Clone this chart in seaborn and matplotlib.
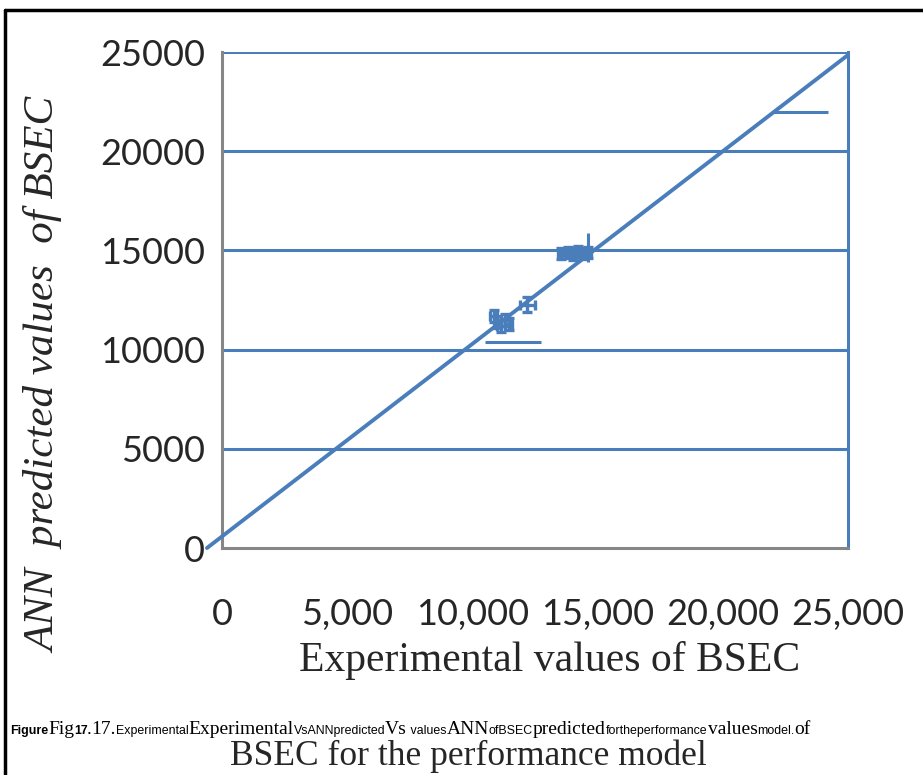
import matplotlib
matplotlib.use("Agg")
import matplotlib.pyplot as plt
import seaborn as sns
import pandas as pd
from matplotlib.lines import Line2D
from matplotlib.offsetbox import TextArea, HPacker, AnchoredOffsetbox

# ---- data ----
fit_x = [-600, 25000]
fit_y = [0, 24850]

exp_vals = [10850, 11000, 11150, 11300, 11450, 12200, 13550, 13800, 14000, 14200, 14400, 14600]
ann_vals = [11700, 11400, 11200, 11500, 11300, 12250, 14850, 14900, 14800, 14950, 14850, 14900]
small_xerr = [150, 150, 150, 150, 150, 300, 150, 150, 150, 150, 150, 150]
small_yerr = [300, 300, 300, 300, 300, 380, 280, 280, 280, 280, 280, 280]

long_x = [11620, 14600, 23100]
long_y = [10400, 15150, 22000]
long_xerr = [1120, 0, 1100]
long_yerr = [0, 750, 0]

x_ticks = [0, 5000, 10000, 15000, 20000, 25000]
x_ticklabels = ["0", "5,000", "10,000", "15,000", "20,000", "25,000"]
y_ticks = [0, 5000, 10000, 15000, 20000, 25000]
y_ticklabels = ["0", "5000", "10000", "15000", "20000", "25000"]

BLUE = "#4A7EBB"
GRAY = "#868686"

sns.set_style("white")
plt.rcParams["font.family"] = ["Lato", "DejaVu Sans"]

fig = plt.figure(figsize=(9.23, 7.75), dpi=100)
ax = fig.add_axes([222/923, 1-548/775, (848-222)/923, (548-52)/775])

df = pd.DataFrame({"x": fit_x, "y": fit_y})
sns.lineplot(data=df, x="x", y="y", ax=ax, color=BLUE, lw=2.8, clip_on=False, zorder=4)

ax.errorbar(exp_vals, ann_vals, xerr=small_xerr, yerr=small_yerr, fmt="none",
            ecolor=BLUE, elinewidth=2.4, capsize=3.5, capthick=2.4, zorder=5)
ax.errorbar(long_x, long_y, xerr=long_xerr, yerr=long_yerr, fmt="none",
            ecolor=BLUE, elinewidth=2.2, capsize=0, zorder=5)

ax.set_xlim(0, 25000)
ax.set_ylim(0, 25000)
ax.set_xticks(x_ticks)
ax.set_xticklabels(x_ticklabels)
ax.set_yticks(y_ticks)
ax.set_yticklabels(y_ticklabels)
ax.tick_params(axis="both", length=0, labelsize=26)
ax.tick_params(axis="x", pad=36)
ax.tick_params(axis="y", pad=12)

for yv in y_ticks[1:]:
    ax.axhline(yv, color=BLUE, lw=2.2, zorder=1)

ax.spines["top"].set_visible(False)
ax.spines["right"].set_color(BLUE)
ax.spines["right"].set_linewidth(2.2)
ax.spines["left"].set_color(GRAY)
ax.spines["bottom"].set_color(GRAY)
ax.spines["left"].set_linewidth(2.2)
ax.spines["bottom"].set_linewidth(2.2)

ax.set_xlabel("Experimental values of BSEC", family="Liberation Serif", fontsize=30)
ax.xaxis.set_label_coords((550-222)/626, -(660-548)/496)
ax.xaxis.label.set_va("center")
ax.set_ylabel("ANN  predicted values  of BSEC", family="Liberation Serif", style="italic",
              fontsize=31)
ax.yaxis.set_label_coords((45-222)/626, (548-375)/496)
ax.yaxis.label.set_va("center")

# figure frame
fig.add_artist(Line2D([5/923, 1.0], [1-10/775, 1-10/775], color="black", lw=2.5,
                      transform=fig.transFigure))
fig.add_artist(Line2D([5/923, 5/923], [0, 1-10/775], color="black", lw=2.5,
                      transform=fig.transFigure))

# garbled caption line
segments = [
    ("Figure", "sans", True), ("Fig", "serif", False), ("17.", "sans", True),
    ("17.", "serif", False), ("Experimental", "sans", False), ("Experimental", "serif", False),
    ("VsANNpredicted", "sans", False), ("Vs", "serif", False), (" values", "sans", False),
    ("ANN", "serif", False), ("ofBSEC", "sans", False), ("predicted", "serif", False),
    ("fortheperformance", "sans", False), ("values", "serif", False),
    ("model.", "sans", False), ("of", "serif", False),
]
boxes = []
for txt, kind, bold in segments:
    if kind == "sans":
        props = dict(family="Liberation Sans", size=8.9, weight="bold" if bold else "normal",
                     color="black")
    else:
        props = dict(family="Liberation Serif", size=14, color="black")
    boxes.append(TextArea(txt, textprops=props))
pack = HPacker(children=boxes, align="baseline", pad=0, sep=0)
anch = AnchoredOffsetbox(loc="lower left", child=pack, pad=0, frameon=False,
                         bbox_to_anchor=(10/923, 1-738/775), bbox_transform=fig.transFigure,
                         borderpad=0)
fig.add_artist(anch)

fig.text(468/923, 1-765/775, "BSEC for the performance model", family="Liberation Serif",
         fontsize=25.5, ha="center", va="baseline")

fig.savefig("out.png", dpi=100)
